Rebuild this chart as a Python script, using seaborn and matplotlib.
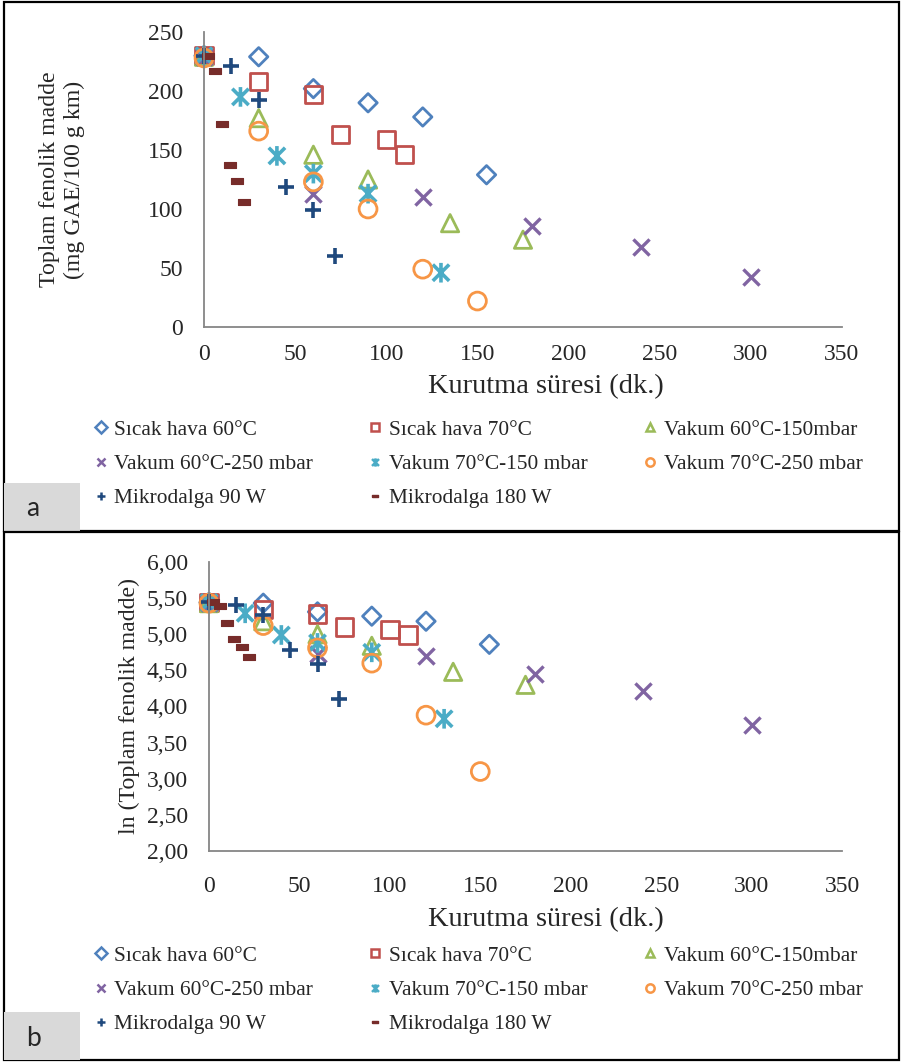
import numpy as np
import pandas as pd
import matplotlib
matplotlib.use("Agg")
import matplotlib.pyplot as plt
import seaborn as sns
from matplotlib.path import Path
from matplotlib.lines import Line2D
from matplotlib.patches import Rectangle
from matplotlib.ticker import FuncFormatter, MultipleLocator

# Series labels
labels = [
    "Sıcak hava 60°C", "Sıcak hava 70°C", "Vakum 60°C-150mbar",
    "Vakum 60°C-250 mbar", "Vakum 70°C-150 mbar", "Vakum 70°C-250 mbar",
    "Mikrodalga 90 W", "Mikrodalga 180 W",
]

# Drying time (dk.)
time_sh60 = [0, 30, 60, 90, 120, 155]
time_sh70 = [0, 30, 60, 75, 100, 110]
time_v60_150 = [0, 30, 60, 90, 135, 175]
time_v60_250 = [0, 60, 120, 180, 240, 300]
time_v70_150 = [0, 20, 40, 60, 90, 130]
time_v70_250 = [0, 30, 60, 90, 120, 150]
time_mw90 = [0, 15, 30, 45, 60, 72]
time_mw180 = [2, 6, 10, 14, 18, 22]

# Total phenolics (mg GAE/100 g km)
tp_sh60 = [230, 229, 202, 190, 178, 129]
tp_sh70 = [230, 208, 197, 163, 159, 146]
tp_v60_150 = [229, 177, 146, 125, 88, 74]
tp_v60_250 = [229, 113, 110, 86, 68, 42]
tp_v70_150 = [230, 195, 145, 130, 113, 46]
tp_v70_250 = [228, 166, 123, 100, 49, 22]
tp_mw90 = [230, 221, 192, 119, 99, 60]
tp_mw180 = [230, 217, 172, 137, 124, 106]

# ln (total phenolics)
ln_sh60 = [5.44, 5.43, 5.31, 5.25, 5.18, 4.86]
ln_sh70 = [5.44, 5.34, 5.28, 5.10, 5.07, 4.99]
ln_v60_150 = [5.43, 5.18, 5.00, 4.84, 4.48, 4.30]
ln_v60_250 = [5.43, 4.73, 4.70, 4.45, 4.22, 3.75]
ln_v70_150 = [5.44, 5.29, 4.99, 4.88, 4.75, 3.83]
ln_v70_250 = [5.43, 5.12, 4.81, 4.60, 3.88, 3.10]
ln_mw90 = [5.44, 5.40, 5.26, 4.78, 4.59, 4.10]
ln_mw180 = [5.45, 5.39, 5.16, 4.93, 4.83, 4.68]

times = [time_sh60, time_sh70, time_v60_150, time_v60_250,
         time_v70_150, time_v70_250, time_mw90, time_mw180]
tp_values = [tp_sh60, tp_sh70, tp_v60_150, tp_v60_250,
             tp_v70_150, tp_v70_250, tp_mw90, tp_mw180]
ln_values = [ln_sh60, ln_sh70, ln_v60_150, ln_v60_250,
             ln_v70_150, ln_v70_250, ln_mw90, ln_mw180]

colors = ["#4F81BD", "#C0504D", "#9BBB59", "#8064A2",
          "#4BACC6", "#F79646", "#1F497D", "#772C2A"]

# Excel-like markers
star = Path([(-0.5, -0.5), (0.5, 0.5), (-0.5, 0.5), (0.5, -0.5), (0, -0.6), (0, 0.6)],
            [Path.MOVETO, Path.LINETO, Path.MOVETO, Path.LINETO, Path.MOVETO, Path.LINETO])
dash = [(-1, -0.5), (1, -0.5), (1, 0.5), (-1, 0.5), (-1, -0.5)]

# marker, size (pt^2), kind, line width
styles = [
    ("D", 88, "open", 2.0),
    ("s", 155, "open", 2.0),
    ("^", 155, "open", 2.0),
    ("x", 135, "line", 2.4),
    (star, 200, "path", 2.6),
    ("o", 165, "open", 2.0),
    ("+", 140, "line", 2.6),
    (dash, 85, "solid", 0.8),
]

sns.set_style("white")
plt.rcParams["font.family"] = ["Liberation Serif", "DejaVu Serif"]

fig = plt.figure(figsize=(9.01, 10.63), dpi=100)
W, H = 901, 1063


def fx(px):
    return px / W


def fy(py):
    return 1 - py / H


ax1 = fig.add_axes([fx(204), fy(327), fx(842) - fx(204), fy(32) - fy(327)])
ax2 = fig.add_axes([fx(209), fy(851), fx(842) - fx(209), fy(562) - fy(851)])


def draw(ax, yvals):
    for t, v, c, (m, s, kind, lw) in zip(times, yvals, colors, styles):
        df = pd.DataFrame({"t": t, "v": v})
        if kind in ("open", "path"):
            sns.scatterplot(data=df, x="t", y="v", ax=ax, marker=m, s=s,
                            facecolor="none", edgecolor=c, linewidth=lw, clip_on=False)
        elif kind == "solid":
            sns.scatterplot(data=df, x="t", y="v", ax=ax, marker=m, s=s,
                            color=c, edgecolor=c, linewidth=lw, clip_on=False)
        else:
            sns.scatterplot(data=df, x="t", y="v", ax=ax, marker=m, s=s,
                            color=c, linewidth=lw, clip_on=False)


draw(ax1, tp_values)
draw(ax2, ln_values)

for ax, xpad, lpad, lx in ((ax1, 12, 7, 0.536), (ax2, 18, 7, 0.532)):
    ax.set_xlim(0, 350)
    ax.xaxis.set_major_locator(MultipleLocator(50))
    for side in ("top", "right"):
        ax.spines[side].set_visible(False)
    for side in ("left", "bottom"):
        ax.spines[side].set_color("#868686")
        ax.spines[side].set_linewidth(1.3)
    ax.tick_params(axis="y", length=0, pad=15, labelsize=17)
    ax.tick_params(axis="x", length=0, pad=xpad, labelsize=17)
    ax.set_xlabel("Kurutma süresi (dk.)", fontsize=20.5, labelpad=lpad)
    ax.xaxis.label.set_x(lx)
    ax.patch.set_alpha(0)

ax1.set_ylim(0, 250)
ax1.yaxis.set_major_locator(MultipleLocator(50))
ax1.set_ylabel("Toplam fenolik madde\n(mg GAE/100 g km)", fontsize=17.2)
ax1.yaxis.set_label_coords(-0.187, 0.5)

ax2.set_ylim(2, 6)
ax2.yaxis.set_major_locator(MultipleLocator(0.5))
ax2.yaxis.set_major_formatter(FuncFormatter(lambda v, p: f"{v:.2f}".replace(".", ",")))
ax2.set_ylabel("ln (Toplam fenolik madde)", fontsize=17.2)
ax2.yaxis.set_label_coords(-0.109, 0.5)

# Legend handles (row-major order in the picture -> column-major for matplotlib)
handles = []
for c, (m, s, kind, lw), lab in zip(colors, styles, labels):
    if kind in ("open", "path"):
        h = Line2D([], [], ls="none", marker=m, markersize=6, mfc="none", mec=c, mew=1.8, label=lab)
    elif kind == "solid":
        h = Line2D([], [], ls="none", marker=m, markersize=4, mfc=c, mec=c, label=lab)
    else:
        h = Line2D([], [], ls="none", marker=m, markersize=6, color=c, mew=1.8, label=lab)
    handles.append(h)
order = [0, 3, 6, 1, 4, 7, 2, 5]
leg_handles = [handles[i] for i in order]

for top_px in (420, 946):
    fig.legend(handles=leg_handles, ncol=3, loc="upper left",
               bbox_to_anchor=(fx(92), fy(top_px)), frameon=False,
               fontsize=15.4, handlelength=0.8, handletextpad=0.25,
               columnspacing=2.5, labelspacing=0.66, borderpad=0, borderaxespad=0)

# Panel frames and panel letters
for y0, y1, letter in ((2, 531, "a"), (532, 1060, "b")):
    fig.patches.append(Rectangle((fx(4), fy(y1)), fx(895), fy(y0) - fy(y1),
                                 transform=fig.transFigure, fill=False,
                                 edgecolor="black", linewidth=1.6))
    fig.patches.append(Rectangle((fx(4), fy(y1)), fx(76), fy(y1 - 48) - fy(y1),
                                 transform=fig.transFigure, facecolor="#D9D9D9",
                                 edgecolor="none"))
    fig.text(fx(33), fy(y1 - 22), letter, fontsize=19, family="Lato",
             ha="center", va="center")

fig.savefig("out.png", dpi=100)
